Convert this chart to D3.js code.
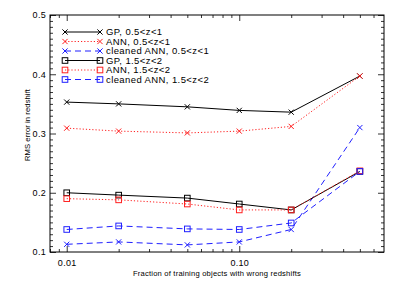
<!DOCTYPE html>
<html>
<head>
<meta charset="utf-8">
<script src="https://cdn.jsdelivr.net/npm/d3@7"></script>
<style>
  body { margin: 0; background: #fff; }
  text { font-family: "Liberation Sans", Arial, sans-serif; }
</style>
</head>
<body>
<div id="chart"></div>
<script>
// Données
const fractions = [0.01, 0.02, 0.05, 0.10, 0.20, 0.50];
const gpLow = [0.353, 0.350, 0.345, 0.339, 0.336, 0.397];
const annLow = [0.309, 0.304, 0.301, 0.304, 0.312, 0.397];
const cleanLow = [0.113, 0.117, 0.112, 0.117, 0.138, 0.310];
const gpHigh = [0.200, 0.196, 0.191, 0.181, 0.171, 0.236];
const annHigh = [0.190, 0.188, 0.181, 0.171, 0.171, 0.237];
const cleanHigh = [0.138, 0.144, 0.139, 0.138, 0.149, 0.236];
const seriesNames = ["GP, 0.5<z<1", "ANN, 0.5<z<1", "cleaned ANN, 0.5<z<1",
                     "GP, 1.5<z<2", "ANN, 1.5<z<2", "cleaned ANN, 1.5<z<2"];
const xTickValues = [0.01, 0.10];
const yTickValues = [0.1, 0.2, 0.3, 0.4, 0.5];

const series = [
  { name: seriesNames[0], values: gpLow, color: "#000", dash: null, marker: "x" },
  { name: seriesNames[1], values: annLow, color: "#ff2020", dash: "1.2,2", marker: "x" },
  { name: seriesNames[2], values: cleanLow, color: "#2020ff", dash: "6,4", marker: "x" },
  { name: seriesNames[3], values: gpHigh, color: "#000", dash: null, marker: "sq" },
  { name: seriesNames[4], values: annHigh, color: "#ff2020", dash: "1.2,2", marker: "sq" },
  { name: seriesNames[5], values: cleanHigh, color: "#2020ff", dash: "6,4", marker: "sq" }
];

const W = 399, H = 285;
const margin = { top: 15, right: 15, bottom: 33, left: 50 };
const width = W - margin.left - margin.right;
const height = H - margin.top - margin.bottom;

const svg = d3.select("#chart").append("svg")
  .attr("width", W).attr("height", H);
const g = svg.append("g").attr("transform", `translate(${margin.left},${margin.top})`);

const x = d3.scaleLog().domain([0.008, 0.69]).range([0, width]);
const y = d3.scaleLinear().domain([0.1, 0.5]).range([height, 0]);

// Graduations mineures
const xMinor = [];
[0.001, 0.01, 0.1].forEach(b => { for (let k = 1; k <= 9; k++) xMinor.push(b * k); });
const xMinorIn = xMinor.filter(v => v >= 0.008 && v <= 0.69 && !xTickValues.some(t => Math.abs(t - v) < 1e-9));
const yMinor = d3.range(10, 51).map(i => i / 100).filter(v => !yTickValues.some(t => Math.abs(t - v) < 1e-9));

const axisStyle = sel => {
  sel.select(".domain").remove();
  sel.selectAll("line").attr("stroke", "#000").attr("stroke-width", 0.8);
  sel.selectAll("text").attr("font-size", 9).attr("fill", "#000").attr("letter-spacing", 0.3);
};

// Axe X bas
g.append("g").attr("transform", `translate(0,${height})`)
  .call(d3.axisBottom(x).tickValues(xTickValues).tickFormat(d3.format(".2f")).tickSizeInner(-6).tickPadding(8))
  .call(axisStyle);
g.append("g").attr("transform", `translate(0,${height})`)
  .call(d3.axisBottom(x).tickValues(xMinorIn).tickFormat("").tickSizeInner(-3))
  .call(axisStyle);
// Axe X haut
g.append("g")
  .call(d3.axisTop(x).tickValues(xTickValues).tickFormat("").tickSizeInner(-6))
  .call(axisStyle);
g.append("g")
  .call(d3.axisTop(x).tickValues(xMinorIn).tickFormat("").tickSizeInner(-3))
  .call(axisStyle);
// Axe Y gauche
g.append("g")
  .call(d3.axisLeft(y).tickValues(yTickValues).tickFormat(d3.format(".1f")).tickSizeInner(-6).tickPadding(4))
  .call(axisStyle);
g.append("g")
  .call(d3.axisLeft(y).tickValues(yMinor).tickFormat("").tickSizeInner(-3))
  .call(axisStyle);
// Axe Y droit
g.append("g").attr("transform", `translate(${width},0)`)
  .call(d3.axisRight(y).tickValues(yTickValues).tickFormat("").tickSizeInner(-6))
  .call(axisStyle);
g.append("g").attr("transform", `translate(${width},0)`)
  .call(d3.axisRight(y).tickValues(yMinor).tickFormat("").tickSizeInner(-3))
  .call(axisStyle);

// Cadre
g.append("rect").attr("width", width).attr("height", height)
  .attr("fill", "none").attr("stroke", "#000").attr("stroke-width", 1);

// Marqueurs
function drawMarker(sel, type, cx, cy, color) {
  if (type === "x") {
    const s = 2.6;
    sel.append("path")
      .attr("d", `M${cx - s},${cy - s}L${cx + s},${cy + s}M${cx - s},${cy + s}L${cx + s},${cy - s}`)
      .attr("stroke", color).attr("stroke-width", 1).attr("fill", "none");
  } else {
    const s = 2.8;
    sel.append("rect")
      .attr("x", cx - s).attr("y", cy - s).attr("width", 2 * s).attr("height", 2 * s)
      .attr("stroke", color).attr("stroke-width", 1).attr("fill", "none");
  }
}

const line = d3.line().x(d => x(d[0])).y(d => y(d[1]));

series.forEach(s => {
  const pts = fractions.map((f, i) => [f, s.values[i]]);
  g.append("path").datum(pts)
    .attr("d", line)
    .attr("fill", "none")
    .attr("stroke", s.color)
    .attr("stroke-width", 1)
    .attr("stroke-dasharray", s.dash);
  pts.forEach(p => drawMarker(g, s.marker, x(p[0]), y(p[1]), s.color));
});

// Légende
const legend = g.append("g").attr("transform", "translate(15,17)");
series.forEach((s, i) => {
  const ly = i * 9.5;
  legend.append("line").attr("x1", 0).attr("x2", 35).attr("y1", ly).attr("y2", ly)
    .attr("stroke", s.color).attr("stroke-width", 1).attr("stroke-dasharray", s.dash);
  drawMarker(legend, s.marker, 0, ly, s.color);
  drawMarker(legend, s.marker, 35, ly, s.color);
  legend.append("text").attr("x", 41).attr("y", ly + 3.4)
    .attr("font-size", 9.5).attr("letter-spacing", 0.4).text(s.name);
});

// Titres des axes
svg.append("text")
  .attr("x", margin.left + width / 2).attr("y", 276)
  .attr("text-anchor", "middle").attr("font-size", 7.6).attr("letter-spacing", 0.2)
  .text("Fraction of training objects with wrong redshifts");
svg.append("text")
  .attr("transform", `translate(30,125) rotate(-90)`)
  .attr("text-anchor", "middle").attr("font-size", 7.6).attr("letter-spacing", 0.1)
  .text("RMS error in redshift");
</script>
</body>
</html>
